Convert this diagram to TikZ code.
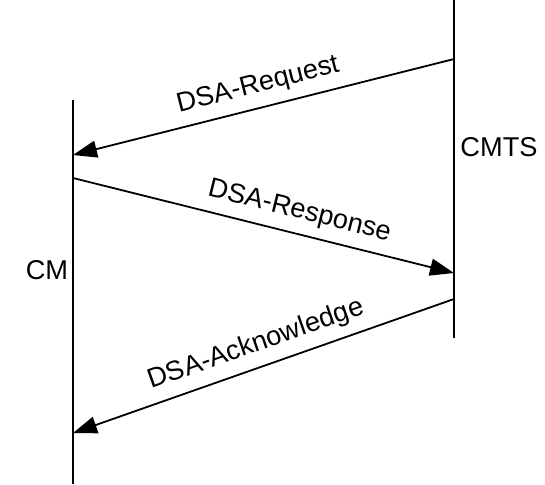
\documentclass[tikz,border=0pt]{standalone}
\usepackage{fontspec}
\setmainfont{Liberation Sans}
\usetikzlibrary{arrows.meta}
\tikzset{
    msg/.style={line width=0.9pt,-{Triangle[length=12pt,width=8.5pt]}},
    msglabel/.style={above,sloped,inner sep=4.5pt}
}
\begin{document}
\begin{tikzpicture}[x=0.5pt,y=0.5pt,line width=0.9pt]
\fontsize{13.6}{16}\selectfont
\useasboundingbox (0,0) rectangle (545,-484);
\coordinate (cmtop) at (73,-100);
\coordinate (cmbot) at (73,-484);
\coordinate (cmtstop) at (454,0);
\coordinate (cmtsbot) at (454,-338);
\draw (cmtop)--(cmbot);
\draw (cmtstop)--(cmtsbot);
\node (cm) at (47,-270) {CM};
\node (cmts) at (499,-147) {CMTS};
\coordinate (reqa) at (454,-59);
\coordinate (reqb) at (73,-155);
\coordinate (rspa) at (73,-178);
\coordinate (rspb) at (454,-273);
\coordinate (acka) at (454,-299);
\coordinate (ackb) at (73,-433);
\draw[msg] (reqa)--(reqb) node[msglabel,pos=0.50] (req) {DSA-Request};
\draw[msg] (rspa)--(rspb) node[msglabel,pos=0.58] (rsp) {DSA-Response};
\draw[msg] (acka)--(ackb) node[msglabel,pos=0.50] (ack) {DSA-Acknowledge};
\end{tikzpicture}
\end{document}
